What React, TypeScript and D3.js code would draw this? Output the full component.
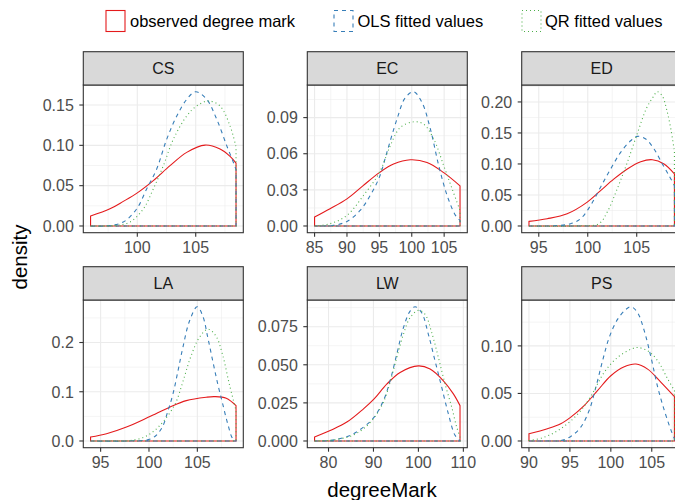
import React from "react";
import * as d3 from "d3";

type Pt = [number, number];

// ---------- data ----------
const facets = ["CS", "EC", "ED", "LA", "LW", "PS"];
const seriesNames = ["observed degree mark", "OLS fitted values", "QR fitted values"];
const seriesColors = ["#E41A1C", "#377EB8", "#4DAF4A"];
const seriesDash = ["none", "4,4", "1,3"];

const csObserved: Pt[] = [[96.0, 0.0123], [97.66, 0.0213], [98.8, 0.0305], [100.0, 0.0411], [101.37, 0.0563], [102.8, 0.0748], [104.23, 0.0913], [105.8, 0.1003], [107.08, 0.0954], [107.94, 0.0863], [108.45, 0.078]];
const csOLS: Pt[] = [[96.0, 0.0], [97.5, 0.0003], [98.8, 0.0049], [99.95, 0.0213], [100.8, 0.046], [101.66, 0.0707], [102.52, 0.1077], [103.38, 0.1364], [104.23, 0.157], [105.0, 0.1665], [105.94, 0.157], [106.8, 0.1323], [107.66, 0.0994], [108.28, 0.0768], [108.45, 0.07]];
const csQR: Pt[] = [[96.0, 0.0], [98.0, 0.0005], [99.38, 0.0049], [100.52, 0.0213], [101.37, 0.046], [102.23, 0.0748], [103.09, 0.1077], [104.23, 0.1364], [105.08, 0.1488], [106.08, 0.155], [107.08, 0.1488], [107.94, 0.124], [108.45, 0.098]];

const ecObserved: Pt[] = [[85.0, 0.0074], [87.39, 0.0143], [90.0, 0.0225], [92.45, 0.0333], [95.0, 0.0443], [97.19, 0.0514], [99.77, 0.055], [102.36, 0.0528], [104.94, 0.0443], [107.45, 0.0333]];
const ecOLS: Pt[] = [[85.0, 0.0], [87.9, 0.0005], [90.0, 0.0038], [92.03, 0.0129], [93.58, 0.0253], [95.0, 0.0405], [96.16, 0.0611], [97.71, 0.0886], [99.0, 0.1065], [100.3, 0.1115], [101.59, 0.1024], [102.88, 0.0804], [104.17, 0.05], [105.46, 0.0253], [106.75, 0.0088], [107.45, 0.0046]];
const ecQR: Pt[] = [[85.0, 0.0], [87.39, 0.0019], [90.0, 0.0088], [92.54, 0.0253], [95.0, 0.0443], [96.68, 0.0666], [98.23, 0.0818], [100.3, 0.0865], [101.85, 0.0845], [103.4, 0.0721], [104.94, 0.05], [106.23, 0.0308], [107.45, 0.0129]];

const edObserved: Pt[] = [[94.0, 0.0074], [95.86, 0.0117], [97.9, 0.0197], [99.95, 0.0385], [101.31, 0.0571], [102.68, 0.0759], [104.04, 0.092], [105.41, 0.1037], [106.6, 0.1069], [107.79, 0.1], [108.85, 0.084]];
const edOLS: Pt[] = [[94.0, 0.0], [96.5, 0.0003], [98.24, 0.0037], [99.27, 0.0117], [100.29, 0.0331], [101.31, 0.0626], [102.34, 0.092], [103.36, 0.1188], [104.38, 0.1374], [105.07, 0.1445], [105.92, 0.1402], [106.77, 0.1241], [107.62, 0.1], [108.3, 0.0812], [108.85, 0.065]];
const edQR: Pt[] = [[94.0, 0.0], [99.0, 0.0002], [101.14, 0.0037], [101.99, 0.0225], [103.01, 0.0599], [104.04, 0.1027], [105.07, 0.1496], [106.0, 0.19], [106.6, 0.206], [107.1, 0.2165], [107.6, 0.21], [108.1, 0.185], [108.5, 0.155], [108.85, 0.12]];

const laObserved: Pt[] = [[93.96, 0.0081], [95.61, 0.0147], [97.67, 0.0283], [99.97, 0.0485], [102.14, 0.0687], [103.85, 0.082], [105.92, 0.0889], [106.78, 0.0901], [107.99, 0.0869], [109.0, 0.0719]];
const laOLS: Pt[] = [[93.96, 0.0], [98.0, 0.0001], [100.25, 0.0047], [101.28, 0.0248], [101.97, 0.0618], [102.48, 0.0956], [103.0, 0.1426], [103.5, 0.1897], [104.19, 0.2436], [104.98, 0.2727], [105.56, 0.2539], [106.08, 0.2101], [106.59, 0.1628], [107.11, 0.1158], [107.62, 0.0754], [108.14, 0.035], [108.66, 0.0047], [109.0, 0.001]];
const laQR: Pt[] = [[93.96, 0.0], [96.5, 0.0002], [98.0, 0.0007], [99.5, 0.008], [100.5, 0.02], [101.5, 0.04], [102.7, 0.075], [103.5, 0.12], [104.3, 0.17], [105.2, 0.21], [106.1, 0.227], [106.9, 0.214], [107.6, 0.176], [108.3, 0.116], [109.0, 0.062]];

const lwObserved: Pt[] = [[76.9, 0.0026], [80.37, 0.0069], [84.08, 0.0124], [87.78, 0.0211], [90.15, 0.0276], [93.0, 0.0374], [95.93, 0.045], [100.0, 0.0493], [102.6, 0.0472], [105.56, 0.0395], [107.78, 0.0309], [109.26, 0.0232]];
const lwOLS: Pt[] = [[76.9, 0.0], [80.37, 0.0003], [84.82, 0.0037], [87.78, 0.0091], [90.15, 0.0156], [92.22, 0.0265], [93.7, 0.0395], [95.19, 0.057], [96.67, 0.0744], [98.15, 0.0852], [99.26, 0.0881], [100.74, 0.0841], [102.22, 0.07], [103.7, 0.0526], [105.19, 0.0352], [106.67, 0.0178], [108.15, 0.0037], [109.26, 0.0002]];
const lwQR: Pt[] = [[76.9, 0.0], [80.37, 0.0005], [84.82, 0.0031], [87.78, 0.008], [90.15, 0.0152], [92.22, 0.0254], [93.7, 0.0385], [95.19, 0.0548], [96.67, 0.07], [98.15, 0.0809], [100.0, 0.0857], [101.48, 0.0831], [102.96, 0.0711], [104.44, 0.0548], [105.93, 0.0374], [107.41, 0.0222], [108.52, 0.0091], [109.26, 0.0026]];

const psObserved: Pt[] = [[90.0, 0.0076], [92.25, 0.0129], [93.88, 0.0181], [95.11, 0.0251], [96.74, 0.0372], [98.37, 0.0529], [100.0, 0.0686], [101.64, 0.078], [103.07, 0.0809], [104.5, 0.0756], [106.13, 0.0617], [107.77, 0.0467]];
const psOLS: Pt[] = [[90.0, 0.0], [92.5, 0.0001], [93.88, 0.0004], [95.11, 0.0048], [96.33, 0.0146], [97.35, 0.032], [98.17, 0.0565], [98.99, 0.0843], [99.8, 0.1088], [100.82, 0.1279], [101.84, 0.1384], [102.46, 0.1412], [103.27, 0.1349], [104.09, 0.1157], [104.91, 0.0878], [105.73, 0.0565], [106.54, 0.032], [107.36, 0.0111], [107.77, 0.0024]];
const psQR: Pt[] = [[90.0, 0.0004], [91.84, 0.0039], [93.88, 0.0129], [95.93, 0.028], [97.56, 0.047], [99.19, 0.0722], [100.82, 0.0878], [102.46, 0.0965], [103.27, 0.0983], [104.5, 0.0948], [105.73, 0.0843], [106.95, 0.0652], [107.77, 0.053]];

const csXTicks = [100, 105];
const ecXTicks = [85, 90, 95, 100, 105];
const edXTicks = [95, 100, 105];
const laXTicks = [95, 100, 105];
const lwXTicks = [80, 90, 100, 110];
const psXTicks = [90, 95, 100, 105];

const csYTicks = [0, 0.05, 0.1, 0.15];
const csYLabels = ["0.00", "0.05", "0.10", "0.15"];
const ecYTicks = [0, 0.03, 0.06, 0.09];
const ecYLabels = ["0.00", "0.03", "0.06", "0.09"];
const edYTicks = [0, 0.05, 0.1, 0.15, 0.2];
const edYLabels = ["0.00", "0.05", "0.10", "0.15", "0.20"];
const laYTicks = [0, 0.1, 0.2];
const laYLabels = ["0.0", "0.1", "0.2"];
const lwYTicks = [0, 0.025, 0.05, 0.075];
const lwYLabels = ["0.000", "0.025", "0.050", "0.075"];
const psYTicks = [0, 0.05, 0.1];
const psYLabels = ["0.00", "0.05", "0.10"];

const panelSeries: Pt[][][] = [
  [csObserved, csOLS, csQR],
  [ecObserved, ecOLS, ecQR],
  [edObserved, edOLS, edQR],
  [laObserved, laOLS, laQR],
  [lwObserved, lwOLS, lwQR],
  [psObserved, psOLS, psQR],
];
const panelXTicks = [csXTicks, ecXTicks, edXTicks, laXTicks, lwXTicks, psXTicks];
const panelYTicks = [csYTicks, ecYTicks, edYTicks, laYTicks, lwYTicks, psYTicks];
const panelYLabels = [csYLabels, ecYLabels, edYLabels, laYLabels, lwYLabels, psYLabels];

// ---------- layout ----------
const W = 675;
const H = 500;
const colLeft = [83.3, 307.3, 521.7];
const panelW = 160;
const stripTop = [51.7, 266.7];
const stripH = 33.3;
const panelH = 147.7;
const FONT = "'Liberation Sans', Arial, Helvetica, sans-serif";
const tickFont = 16;

function minorBreaks(major: number[], domain: [number, number]): number[] {
  if (major.length < 2) return [];
  const step = major[1] - major[0];
  const out: number[] = [];
  const cand = [major[0] - step / 2, ...major.map((m) => m + step / 2)];
  for (const c of cand) if (c >= domain[0] && c <= domain[1]) out.push(c);
  return out;
}

function Panel({ idx }: { idx: number }) {
  const col = idx % 3;
  const row = Math.floor(idx / 3);
  const left = colLeft[col];
  const sTop = stripTop[row];
  const top = sTop + stripH;
  const bottom = top + panelH;
  const series = panelSeries[idx];

  const obs = series[0];
  const xMin = d3.min(obs, (d) => d[0])!;
  const xMax = d3.max(obs, (d) => d[0])!;
  const xr = xMax - xMin;
  const yMax = d3.max(series.flat(), (d) => d[1])!;
  const xDom: [number, number] = [xMin - 0.05 * xr, xMax + 0.05 * xr];
  const yDom: [number, number] = [-0.05 * yMax, 1.05 * yMax];
  const x = d3.scaleLinear().domain(xDom).range([left, left + panelW]);
  const y = d3.scaleLinear().domain(yDom).range([bottom, top]);

  const area = d3
    .area<Pt>()
    .x((d) => x(d[0]))
    .y1((d) => Math.min(y(0), y(d[1])))
    .y0(() => y(0))
    .curve(d3.curveCatmullRom.alpha(0.5));

  const xT = panelXTicks[idx];
  const yT = panelYTicks[idx];
  const yL = panelYLabels[idx];
  const xMinor = minorBreaks(xT, xDom);
  const yMinor = minorBreaks(yT, yDom);
  const clipId = `clip-${idx}`;

  return (
    <g>
      <defs>
        <clipPath id={clipId}>
          <rect x={left} y={top} width={panelW} height={panelH} />
        </clipPath>
      </defs>
      <rect x={left} y={top} width={panelW} height={panelH} fill="#FFFFFF" />
      {xMinor.map((v, i) => (
        <line key={`xm${i}`} x1={x(v)} x2={x(v)} y1={top} y2={bottom} stroke="#EBEBEB" strokeWidth={0.55} />
      ))}
      {yMinor.map((v, i) => (
        <line key={`ym${i}`} x1={left} x2={left + panelW} y1={y(v)} y2={y(v)} stroke="#EBEBEB" strokeWidth={0.55} />
      ))}
      {xT.map((v, i) => (
        <line key={`xM${i}`} x1={x(v)} x2={x(v)} y1={top} y2={bottom} stroke="#EBEBEB" strokeWidth={1.1} />
      ))}
      {yT.map((v, i) => (
        <line key={`yM${i}`} x1={left} x2={left + panelW} y1={y(v)} y2={y(v)} stroke="#EBEBEB" strokeWidth={1.1} />
      ))}
      <g clipPath={`url(#${clipId})`}>
        {series.map((s, si) => (
          <path
            key={si}
            d={area(s) || ""}
            fill="none"
            stroke={seriesColors[si]}
            strokeWidth={1.1}
            strokeDasharray={seriesDash[si]}
          />
        ))}
      </g>
      <rect x={left} y={top} width={panelW} height={panelH} fill="none" stroke="#333333" strokeWidth={1.1} />
      {/* strip */}
      <rect x={left} y={sTop} width={panelW} height={stripH} fill="#D9D9D9" stroke="#333333" strokeWidth={1.1} />
      <text
        x={left + panelW / 2}
        y={sTop + stripH / 2}
        dy="0.36em"
        textAnchor="middle"
        fontFamily={FONT}
        fontSize={tickFont}
        fill="#1A1A1A"
      >
        {facets[idx]}
      </text>
      {/* x axis */}
      {xT.map((v, i) => (
        <g key={`xt${i}`}>
          <line x1={x(v)} x2={x(v)} y1={bottom} y2={bottom + 4} stroke="#333333" strokeWidth={1.1} />
          <text x={x(v)} y={bottom + 20.5} textAnchor="middle" fontFamily={FONT} fontSize={tickFont} fill="#4D4D4D">
            {v}
          </text>
        </g>
      ))}
      {/* y axis */}
      {yT.map((v, i) => (
        <g key={`yt${i}`}>
          <line x1={left - 4} x2={left} y1={y(v)} y2={y(v)} stroke="#333333" strokeWidth={1.1} />
          <text
            x={left - 9.5}
            y={y(v)}
            dy="0.36em"
            textAnchor="end"
            fontFamily={FONT}
            fontSize={tickFont}
            fill="#4D4D4D"
          >
            {yL[i]}
          </text>
        </g>
      ))}
    </g>
  );
}

const legendKeyX = [106, 334, 522];
const legendTextX = [130, 357.5, 545];

export default function App() {
  return (
    <svg
      width={W}
      height={H}
      viewBox={`0 0 ${W} ${H}`}
      style={{ position: "absolute", left: 0, top: 0, background: "#FFFFFF" }}
    >
      <rect x={0} y={0} width={W} height={H} fill="#FFFFFF" />
      {/* legend */}
      {seriesNames.map((name, i) => (
        <g key={name}>
          <rect
            x={legendKeyX[i]}
            y={10.5}
            width={19}
            height={21}
            fill="none"
            stroke={seriesColors[i]}
            strokeWidth={1.1}
            strokeDasharray={seriesDash[i]}
          />
          <text x={legendTextX[i]} y={21} dy="0.36em" fontFamily={FONT} fontSize={16.5} fill="#000000">
            {name}
          </text>
        </g>
      ))}
      {facets.map((f, i) => (
        <Panel key={f} idx={i} />
      ))}
      <text
        transform={`translate(20,257) rotate(-90)`}
        textAnchor="middle"
        dy="0.36em"
        fontFamily={FONT}
        fontSize={20.5}
        fill="#000000"
      >
        density
      </text>
      <text x={382} y={497} textAnchor="middle" fontFamily={FONT} fontSize={20.5} fill="#000000">
        degreeMark
      </text>
    </svg>
  );
}
